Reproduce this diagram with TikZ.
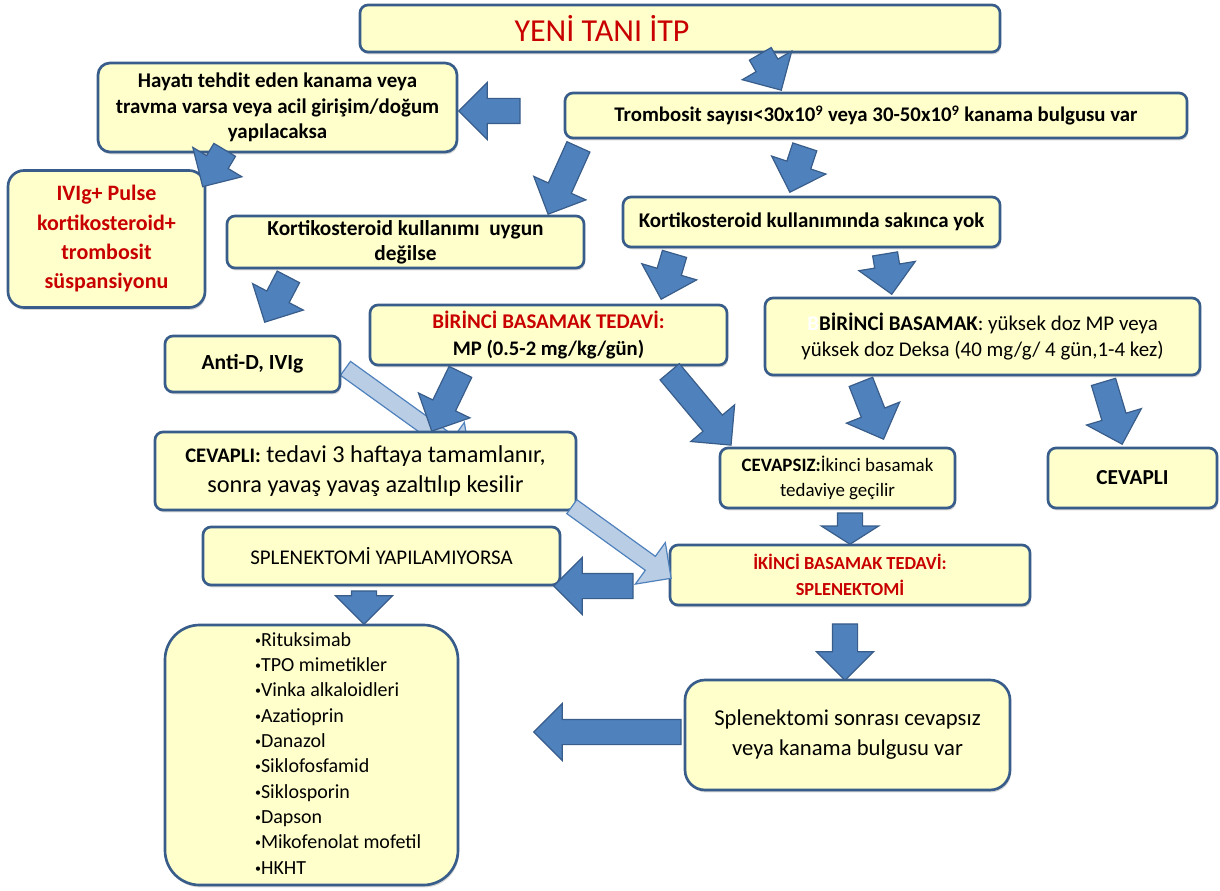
\documentclass[tikz,border=0pt]{standalone}
\usepackage{fontspec}
\setmainfont{Carlito}
\usetikzlibrary{shapes.arrows,calc,shadows}

\definecolor{boxfill}{RGB}{255,255,204}
\definecolor{boxline}{RGB}{56,93,138}
\definecolor{arrfill}{RGB}{79,129,189}
\definecolor{arrline}{RGB}{56,93,138}
\definecolor{lightfill}{RGB}{185,205,229}
\definecolor{itpred}{RGB}{200,0,0}

\newcommand\fs[2]{\fontsize{#1}{#2}\selectfont}
\newcommand\itm{{\fs{9}{9}\raisebox{0.35ex}{•}}}

\tikzset{
  box/.style={draw=boxline, line width=2pt, fill=boxfill, rounded corners=6pt,
    align=center, inner sep=2pt, font=\fs{15.7}{19}\bfseries,
    drop shadow={shadow xshift=0.8pt, shadow yshift=-1.8pt, opacity=0.35, fill=black!45}},
  bigarr/.style={single arrow, draw=arrline, fill=arrfill, line width=0.9pt,
    minimum width=42pt, single arrow head extend=12pt, inner xsep=0pt, inner ysep=9pt, anchor=tail},
  lightarr/.style={bigarr, fill=lightfill, draw=arrfill, inner ysep=6pt, single arrow head extend=12.75pt, minimum width=37.5pt},
}
% block arrow: #2 tail, #3 tip
\newcommand\blockarr[3][bigarr]{%
  \path let \p1=#2, \p2=#3, \n1={atan2(\y2-\y1,\x2-\x1)}, \n2={veclen(\x2-\x1,\y2-\y1)} in
    node[#1, rotate=-\n1, minimum height=\n2] at (\p1) {};}

\begin{document}
\begin{tikzpicture}[x=0.75pt,y=0.75pt,yscale=-1,xscale=1]
    \useasboundingbox (0,0) rectangle (1220,891);

    % Points behind the boxes
    \coordinate (antitail) at (345,368);
    \coordinate (antitip) at (470,458);
    \blockarr[lightarr]{(antitail)}{(antitip)}

    % Box: title
    \node [box, minimum width=480pt, minimum height=35.25pt, font=\fs{24}{26}, text=itpred] (tani) at (680,28.5) {\raisebox{-2pt}{YENİ TANI İTP}\hspace*{117pt}};
    % Box: left top
    \node [box, minimum width=269.25pt, minimum height=66.75pt, rounded corners=9pt] (hayati) at (277.5,107.5) {Hayatı tehdit eden kanama veya\\travma varsa veya acil girişim/doğum\\yapılacaksa};
    % Box: platelets
    \node [box, minimum width=466.5pt, minimum height=33.75pt, font=\fs{15.6}{19}\bfseries] (tromb) at (876,115.5) {Trombosit sayısı<30x10\textsuperscript{9} veya 30-50x10\textsuperscript{9} kanama bulgusu var};
    % Box: IVIg
    \node [box, minimum width=147.75pt, minimum height=102.75pt, rounded corners=12pt, text=itpred, font=\fs{16.5}{22}\bfseries] (ivig) at (106.5,239) {IVIg+ Pulse\\kortikosteroid+\\trombosit\\süspansiyonu};
    % Box: steroid not suitable
    \node [box, minimum width=267.75pt, minimum height=39pt, font=\fs{16}{18.75}\bfseries] (kortuygun) at (405.5,242) {Kortikosteroid kullanımı\ \ uygun\\değilse};
    % Box: steroid suitable
    \node [box, minimum width=282.75pt, minimum height=37.5pt] (kortyok) at (811.5,222) {Kortikosteroid kullanımında sakınca yok};
    % Box: first line left
    \node [box, minimum width=267.75pt, minimum height=45pt, font=\fs{15.7}{20}\bfseries] (birinci) at (548.5,335) {\textcolor{itpred}{BİRİNCİ BASAMAK TEDAVİ:}\\{\fs{15.5}{20}MP (0.5-2 mg/kg/gün)}};
    % Box: first line right
    \node [box, minimum width=326.25pt, minimum height=57.75pt, font=\fs{15.7}{20}\bfseries] (birinciR) at (982.5,336.5) {\textcolor{white}{B}BİRİNCİ BASAMAK{\mdseries: yüksek doz MP veya}\\{\mdseries yüksek doz Deksa (40 mg/g/ 4 gün,1-4 kez)}};
    % Box: Anti-D
    \node [box, minimum width=131.25pt, minimum height=42pt, font=\fs{16.2}{19}\bfseries] (antid) at (252.5,364) {Anti-D, IVIg};
    % Box: responders
    \node [box, minimum width=315.75pt, minimum height=58.5pt, font=\fs{18.2}{22.5}] (cevapli) at (365.5,471) {{\bfseries\fs{15.5}{22.5}CEVAPLI:} tedavi 3 haftaya tamamlanır,\\sonra yavaş yavaş azaltılıp kesilir};
    % Box: non-responders
    \node [box, minimum width=176.25pt, minimum height=45pt, font=\fs{14.2}{18.75}\bfseries] (cevapsiz) at (837.5,478) {CEVAPSIZ:{\mdseries İkinci basamak}\\{\mdseries tedaviye geçilir}};
    % Box: responders right
    \node [box, minimum width=126.75pt, minimum height=45pt, font=\fs{16}{19}\bfseries] (cevapliR) at (1132.5,478) {CEVAPLI};
    % Box: no splenectomy
    \node [box, minimum width=267.75pt, minimum height=43.5pt, font=\fs{15.7}{19}] (splyap) at (381.5,556) {SPLENEKTOMİ YAPILAMIYORSA};
    % Box: second line
    \node [box, minimum width=270pt, minimum height=45pt, text=itpred, font=\fs{13.8}{19.5}\bfseries] (ikinci) at (850,575) {İKİNCİ BASAMAK TEDAVİ:\\SPLENEKTOMİ};
    % Box: drug list
    \node [box, minimum width=219.75pt, minimum height=195pt, rounded corners=26pt, font=\fs{15}{19}] (liste) at (311.5,755) {\hspace*{40pt}\begin{tabular}{@{}l@{}}
      \itm Rituksimab\\ \itm TPO mimetikler\\ \itm Vinka alkaloidleri\\ \itm Azatioprin\\ \itm Danazol\\
      \itm Siklofosfamid\\ \itm Siklosporin\\ \itm Dapson\\ \itm Mikofenolat mofetil\\ \itm HKHT\end{tabular}};
    % Box: after splenectomy
    \node [box, minimum width=243.75pt, minimum height=82.5pt, rounded corners=15pt, font=\fs{17}{22.5}] (splsonra) at (847.5,735) {Splenektomi sonrası cevapsız\\veya kanama bulgusu var};

    % Arrows
    \blockarr{($(tani.south)+(80,0)$)}{($(tromb.north)+(-95,-2)$)}
    \blockarr{($(tromb.west)+(-43,-4.5)$)}{($(hayati.east)+(1,3.5)$)}
    \blockarr{($(hayati.south)+(-52.5,-4)$)}{($(ivig.north)+(96.5,17)$)}
    \blockarr{($(tromb.south west)+(15,7)$)}{($(kortuygun.north east)+(-37,-1)$)}
    \blockarr{($(tromb.south)+(-71,7)$)}{($(kortyok.north)+(-21.5,-4)$)}
    \blockarr{($(kortuygun.south west)+(63,7)$)}{($(antid.north)+(12.5,-13)$)}
    \blockarr{($(kortyok.south west)+(53,5)$)}{($(birinci.north east)+(-67,-5)$)}
    \blockarr{($(kortyok.south)+(73.5,5)$)}{($(birinciR.north west)+(128,-3)$)}
    \blockarr{($(birinci.south west)+(92,5)$)}{($(cevapli.north)+(66.5,0)$)}
    \blockarr{($(birinci.south east)+(-59,5)$)}{($(cevapsiz.north west)+(12,-2)$)}
    \blockarr{($(birinciR.south west)+(97,5)$)}{($(cevapsiz.north east)+(-73,-8)$)}
    \blockarr{($(birinciR.south east)+(-98,5)$)}{($(cevapliR.north)+(-10.5,-3)$)}
    \blockarr[bigarr,single arrow tip angle=115]{($(cevapsiz.south)+(12.5,3)$)}{(ikinci.north)}
    \blockarr[lightarr]{($(cevapli.south east)+(-6,-5)$)}{($(ikinci.west)+(2,3)$)}
    \blockarr{($(ikinci.west)+(-35,11)$)}{($(splyap.east)+(-7,30)$)}
    \blockarr{($(splyap.south)+(-17.5,4)$)}{($(liste.north)+(52.5,0)$)}
    \blockarr{($(ikinci.south)+(-5,17)$)}{($(splsonra.north)+(-2.5,1)$)}
    \blockarr{($(splsonra.west)+(-2,-3)$)}{($(liste.east)+(75,-23)$)}

\end{tikzpicture}
\end{document}
